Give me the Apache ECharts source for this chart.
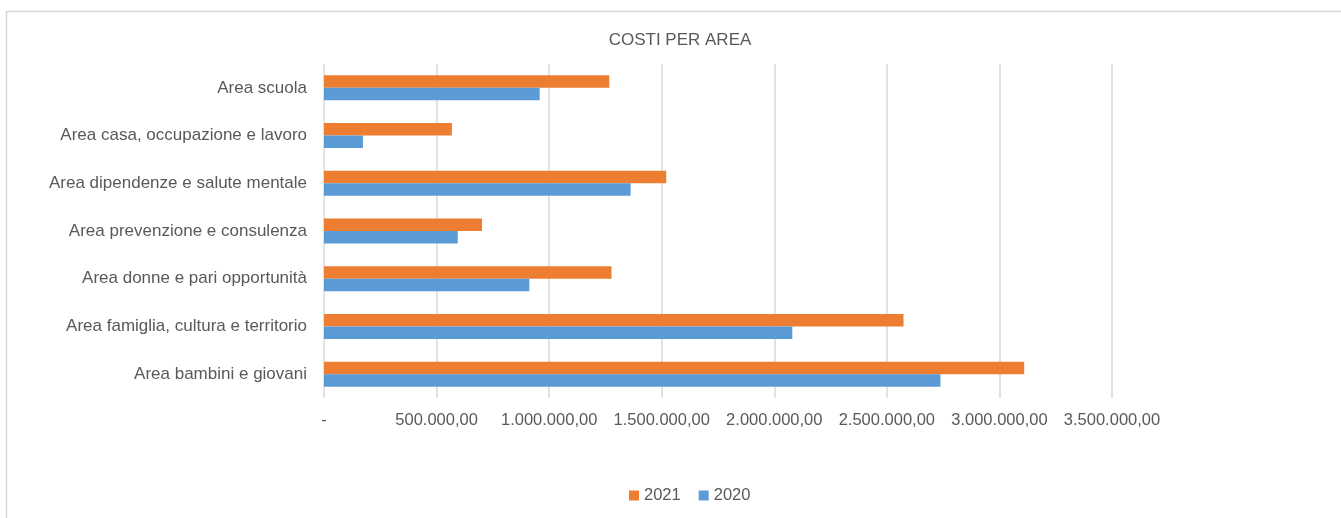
<!DOCTYPE html>
<html>
<head>
<meta charset="utf-8">
<script src="https://cdn.jsdelivr.net/npm/echarts@6/dist/echarts.min.js"></script>
<style>
html,body{margin:0;padding:0;background:#fff;}
#chart{width:1341px;height:518px;}
</style>
</head>
<body>
<div id="chart"></div>
<script>
const titleText = 'COSTI PER AREA';
const categories = [
  'Area bambini e giovani',
  'Area famiglia, cultura e territorio',
  'Area donne e pari opportunità',
  'Area prevenzione e consulenza',
  'Area dipendenze e salute mentale',
  'Area casa, occupazione e lavoro',
  'Area scuola'
];
const values2020 = [2738000, 2080000, 912000, 594000, 1362000, 173000, 958000];
const values2021 = [3110000, 2574000, 1277000, 702000, 1520000, 568000, 1267000];
const legendOrder = ['2021', '2020'];
const axisMax = 3500000;
const axisStep = 500000;

function fmt(v) {
  if (v === 0) return '-';
  const s = Math.round(v).toString().replace(/\B(?=(\d{3})+(?!\d))/g, '.');
  return s + ',00';
}

const chart = echarts.init(document.getElementById('chart'));
const txt = '#595959';
const font = 'Liberation Sans';
chart.setOption({
  animation: false,
  backgroundColor: '#fff',
  graphic: [{
    type: 'rect',
    shape: { x: 6.5, y: 11.5, width: 1400, height: 600 },
    style: { fill: 'none', stroke: '#D9D9D9', lineWidth: 1.5 },
    silent: true
  }],
  title: {
    text: titleText,
    left: 675, top: 27, textAlign: 'center',
    textStyle: { color: txt, fontFamily: font, fontSize: 17, fontWeight: 'normal' }
  },
  legend: {
    data: legendOrder,
    left: 624, top: 482,
    itemWidth: 10, itemHeight: 10, itemGap: 18,
    icon: 'rect',
    textStyle: { color: txt, fontFamily: font, fontSize: 16.5 }
  },
  grid: { left: 324, right: 229, top: 64, bottom: 120, containLabel: false },
  xAxis: {
    type: 'value', min: 0, max: axisMax, interval: axisStep,
    axisLine: { show: false }, axisTick: { show: false },
    splitLine: { show: true, lineStyle: { color: '#D9D9D9', width: 1.5 } },
    axisLabel: { color: txt, fontFamily: font, fontSize: 16.5, margin: 14, formatter: fmt }
  },
  yAxis: {
    type: 'category', data: categories,
    axisLine: { show: false }, axisTick: { show: false },
    axisLabel: { color: txt, fontFamily: font, fontSize: 17, margin: 17 }
  },
  series: [
    { name: '2021', type: 'bar', data: values2021, itemStyle: { color: '#ED7D31' },
      barGap: '0%', barCategoryGap: '47.6%' },
    { name: '2020', type: 'bar', data: values2020, itemStyle: { color: '#5B9BD5' },
      barGap: '0%', barCategoryGap: '47.6%' }
  ]
});
</script>
</body>
</html>
